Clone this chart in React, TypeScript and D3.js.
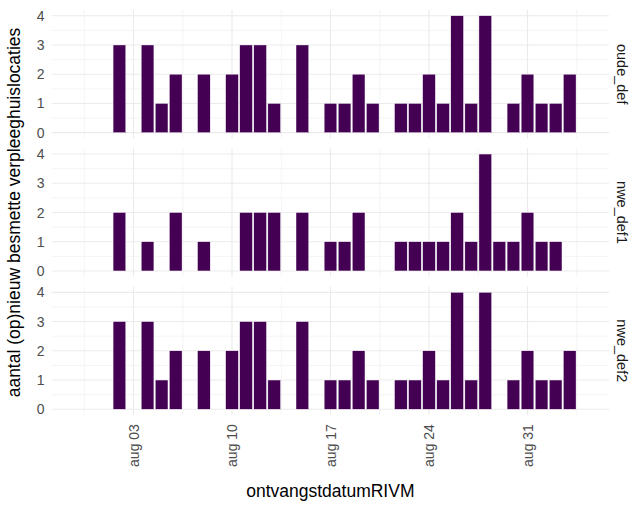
import { useRef, useEffect } from 'react';
import * as d3 from 'd3';

const WIDTH = 636;
const HEIGHT = 506;

// one entry per day, aug 02 .. sep 03 (2020)
const DATES = [
  '2020-08-02', '2020-08-03', '2020-08-04', '2020-08-05', '2020-08-06', '2020-08-07',
  '2020-08-08', '2020-08-09', '2020-08-10', '2020-08-11', '2020-08-12', '2020-08-13',
  '2020-08-14', '2020-08-15', '2020-08-16', '2020-08-17', '2020-08-18', '2020-08-19',
  '2020-08-20', '2020-08-21', '2020-08-22', '2020-08-23', '2020-08-24', '2020-08-25',
  '2020-08-26', '2020-08-27', '2020-08-28', '2020-08-29', '2020-08-30', '2020-08-31',
  '2020-09-01', '2020-09-02', '2020-09-03',
];

const OUDE_DEF = [3, 0, 3, 1, 2, 0, 2, 0, 2, 3, 3, 1, 0, 3, 0, 1, 1, 2, 1, 0, 1, 1, 2, 1, 4, 1, 4, 0, 1, 2, 1, 1, 2];
const NWE_DEF1 = [2, 0, 1, 0, 2, 0, 1, 0, 0, 2, 2, 2, 0, 2, 0, 1, 1, 2, 0, 0, 1, 1, 1, 1, 2, 1, 4, 1, 1, 2, 1, 1, 0];
const NWE_DEF2 = [3, 0, 3, 1, 2, 0, 2, 0, 2, 3, 3, 1, 0, 3, 0, 1, 1, 2, 1, 0, 1, 1, 2, 1, 4, 1, 4, 0, 1, 2, 1, 1, 2];

const PANELS = ['oude_def', 'nwe_def1', 'nwe_def2'];
const SERIES = [OUDE_DEF, NWE_DEF1, NWE_DEF2];

const X_TICKS = ['2020-08-03', '2020-08-10', '2020-08-17', '2020-08-24', '2020-08-31'];
const X_TICK_LABELS = ['aug 03', 'aug 10', 'aug 17', 'aug 24', 'aug 31'];
const X_MINOR = ['2020-07-30T12:00', '2020-08-06T12:00', '2020-08-13T12:00', '2020-08-20T12:00', '2020-08-27T12:00', '2020-09-03T12:00'];
const X_DOMAIN = ['2020-07-28T04:30', '2020-09-05T19:00'];

const Y_TICKS = [0, 1, 2, 3, 4];
const Y_MINOR = [0.5, 1.5, 2.5, 3.5];

const FONT = '"Liberation Sans", Arial, Helvetica, sans-serif';
const BAR = '#440154';
const GRID = '#ebebeb';

const parse = (s: string) => new Date(s + (s.length === 10 ? 'T00:00Z' : 'Z'));

export default function App() {
  const svgRef = useRef<SVGSVGElement>(null);

  useEffect(() => {
    document.body.style.margin = '0';
    const svg = d3.select(svgRef.current);
    svg.selectAll('*').remove();

    const left = 51.7;
    const right = 609;
    const panelH = 128.6;
    const gap = 9.7;
    const top0 = 9.9;

    const x = d3.scaleUtc().domain(X_DOMAIN.map(parse)).range([left, right]);
    const day = x(parse('2020-08-04')) - x(parse('2020-08-03'));

    svg.append('rect').attr('width', WIDTH).attr('height', HEIGHT).attr('fill', '#ffffff');

    PANELS.forEach((name, pi) => {
      const top = top0 + pi * (panelH + gap);
      const y = d3.scaleLinear().domain([-0.2, 4.2]).range([top + panelH, top]);
      const g = svg.append('g');

      // minor grid
      Y_MINOR.forEach((v) => {
        g.append('line')
          .attr('x1', left).attr('x2', right)
          .attr('y1', y(v)).attr('y2', y(v))
          .attr('stroke', GRID).attr('stroke-width', 0.55);
      });
      X_MINOR.forEach((d) => {
        const xv = x(parse(d));
        g.append('line')
          .attr('x1', xv).attr('x2', xv)
          .attr('y1', top).attr('y2', top + panelH)
          .attr('stroke', GRID).attr('stroke-width', 0.55);
      });
      // major grid
      Y_TICKS.forEach((v) => {
        g.append('line')
          .attr('x1', left).attr('x2', right)
          .attr('y1', y(v)).attr('y2', y(v))
          .attr('stroke', GRID).attr('stroke-width', 1.1);
      });
      X_TICKS.forEach((d) => {
        const xv = x(parse(d));
        g.append('line')
          .attr('x1', xv).attr('x2', xv)
          .attr('y1', top).attr('y2', top + panelH)
          .attr('stroke', GRID).attr('stroke-width', 1.1);
      });

      // bars
      SERIES[pi].forEach((v, i) => {
        if (v === 0) return;
        const cx = x(parse(DATES[i]));
        g.append('rect')
          .attr('x', cx - (day * 0.9) / 2)
          .attr('width', day * 0.9)
          .attr('y', y(v))
          .attr('height', y(0) - y(v))
          .attr('fill', BAR)
          .attr('stroke', '#ffffff')
          .attr('stroke-width', 0.4);
      });

      // y tick labels
      Y_TICKS.forEach((v) => {
        g.append('text')
          .attr('x', 44.5)
          .attr('y', y(v))
          .attr('dy', '0.36em')
          .attr('text-anchor', 'end')
          .attr('font-family', FONT)
          .attr('font-size', 14)
          .attr('fill', '#4d4d4d')
          .text(String(v));
      });

      // strip label
      const sx = 622;
      const sy = top + panelH / 2;
      g.append('text')
        .attr('transform', `translate(${sx},${sy}) rotate(90)`)
        .attr('text-anchor', 'middle')
        .attr('dy', '0.36em')
        .attr('font-family', FONT)
        .attr('font-size', 14.5)
        .attr('fill', '#1a1a1a')
        .text(name);
    });

    const bottom = top0 + 3 * panelH + 2 * gap;

    // x tick labels
    X_TICKS.forEach((d, i) => {
      const xv = x(parse(d));
      svg
        .append('text')
        .attr('transform', `translate(${xv},${bottom + 9}) rotate(-90)`)
        .attr('text-anchor', 'end')
        .attr('dy', '0.36em')
        .attr('font-family', FONT)
        .attr('font-size', 14)
        .attr('fill', '#4d4d4d')
        .text(X_TICK_LABELS[i]);
    });

    // axis titles
    svg
      .append('text')
      .attr('x', (left + right) / 2)
      .attr('y', 497)
      .attr('text-anchor', 'middle')
      .attr('font-family', FONT)
      .attr('font-size', 17.5)
      .attr('fill', '#000000')
      .text('ontvangstdatumRIVM');

    svg
      .append('text')
      .attr('transform', `translate(20,${(top0 + bottom) / 2}) rotate(-90)`)
      .attr('text-anchor', 'middle')
      .attr('font-family', FONT)
      .attr('font-size', 17.5)
      .attr('fill', '#000000')
      .text('aantal (op)nieuw besmette verpleeghuislocaties');
  }, []);

  return <svg ref={svgRef} width={WIDTH} height={HEIGHT} style={{ display: 'block' }} />;
}
